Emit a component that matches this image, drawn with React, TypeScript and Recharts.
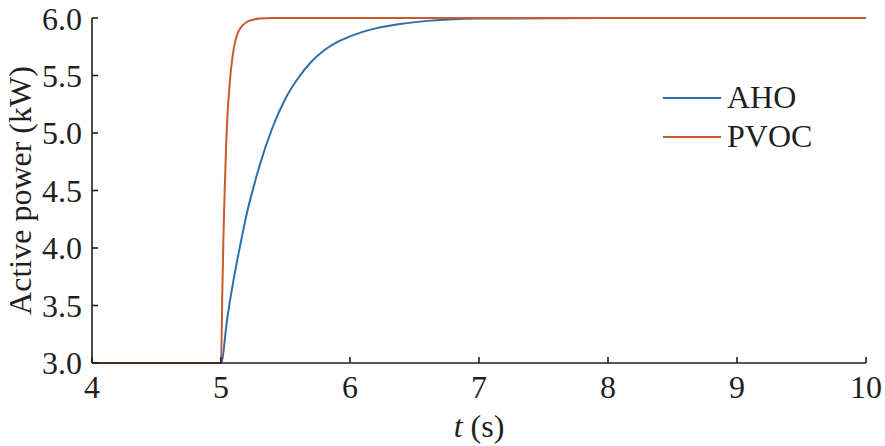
import React from "react";
import { LineChart, Line, XAxis, YAxis } from "recharts";

const xTicks = [4, 5, 6, 7, 8, 9, 10];
const yTicks = [3.0, 3.5, 4.0, 4.5, 5.0, 5.5, 6.0];

// AHO: slower first-order rise after the step at t = 5 s
const ahoTime = [4, 5, 5.05, 5.1, 5.15, 5.2, 5.25, 5.3, 5.4, 5.5, 5.6, 5.7, 5.8, 5.9, 6.0, 6.2, 6.4, 6.6, 6.8, 7.0, 8, 10];
const ahoPower = [3.0, 3.0, 3.4, 3.74, 4.03, 4.3, 4.52, 4.72, 5.05, 5.3, 5.48, 5.62, 5.72, 5.79, 5.84, 5.91, 5.95, 5.975, 5.99, 5.995, 6.0, 6.0];

// PVOC: near-instant rise
const pvocTime = [4, 5, 5.01, 5.02, 5.03, 5.04, 5.05, 5.06, 5.08, 5.1, 5.12, 5.15, 5.2, 5.25, 5.3, 5.4, 10];
const pvocPower = [3.0, 3.0, 3.6, 4.15, 4.55, 4.9, 5.15, 5.32, 5.58, 5.74, 5.84, 5.91, 5.965, 5.985, 5.995, 6.0, 6.0];

const ahoData = ahoTime.map((t, i) => ({ t, p: ahoPower[i] }));
const pvocData = pvocTime.map((t, i) => ({ t, p: pvocPower[i] }));

const BLUE = "#2e6fa8";
const ORANGE = "#cc5a2c";
const INK = "#1f1f1f";
const FONT = "'Times New Roman', 'Liberation Serif', Times, serif";

const legendItems = [
  { name: "AHO", color: BLUE },
  { name: "PVOC", color: ORANGE },
];

// legend drawn as an overlay so it doesn't eat into the plot area
const LegendBox = () => (
  <div
    style={{
      position: "absolute",
      left: 663,
      top: 78,
      fontSize: 32,
      lineHeight: "39px",
      color: INK,
      fontFamily: FONT,
    }}
  >
    {legendItems.map((s) => (
      <div key={s.name} style={{ display: "flex", alignItems: "center" }}>
        <svg width={58} height={4}>
          <line x1={0} y1={2} x2={58} y2={2} stroke={s.color} strokeWidth={2} />
        </svg>
        <span style={{ marginLeft: 6 }}>{s.name}</span>
      </div>
    ))}
  </div>
);

const YLabel = (props: any) => {
  const { viewBox } = props;
  const cx = 31;
  const cy = viewBox.y + viewBox.height / 2;
  return (
    <text
      x={cx}
      y={cy}
      transform={`rotate(-90, ${cx}, ${cy})`}
      textAnchor="middle"
      fontSize={32}
      fill={INK}
      fontFamily={FONT}
    >
      Active power (kW)
    </text>
  );
};

const XLabel = (props: any) => {
  const { viewBox } = props;
  return (
    <text
      x={viewBox.x + viewBox.width / 2}
      y={viewBox.y + 74}
      textAnchor="middle"
      fontSize={32}
      fill={INK}
      fontFamily={FONT}
    >
      <tspan fontStyle="italic">t</tspan>
      <tspan> (s)</tspan>
    </text>
  );
};

const App = () => (
  <div style={{ position: "absolute", left: 0, top: 0, width: 885, height: 446, fontFamily: FONT }}>
    <LineChart width={885} height={446} margin={{ top: 18, right: 19, left: 0, bottom: 0 }}>
      <XAxis
        dataKey="t"
        type="number"
        domain={[4, 10]}
        ticks={xTicks}
        height={83}
        stroke={INK}
        strokeWidth={1.6}
        tickSize={-6}
        tickMargin={18}
        tick={{ fontSize: 32, fill: INK, fontFamily: FONT }}
        label={<XLabel />}
        allowDuplicatedCategory={false}
      />
      <YAxis
        type="number"
        domain={[3, 6]}
        ticks={yTicks}
        width={92}
        stroke={INK}
        strokeWidth={1.6}
        tickSize={-6}
        tickMargin={16}
        tickFormatter={(v: number) => v.toFixed(1)}
        tick={{ fontSize: 32, fill: INK, fontFamily: FONT }}
        label={<YLabel />}
      />
      <Line
        data={ahoData}
        dataKey="p"
        name="AHO"
        type="monotone"
        stroke={BLUE}
        strokeWidth={2}
        dot={false}
        isAnimationActive={false}
      />
      <Line
        data={pvocData}
        dataKey="p"
        name="PVOC"
        type="monotone"
        stroke={ORANGE}
        strokeWidth={2}
        dot={false}
        isAnimationActive={false}
      />
    </LineChart>
    <LegendBox />
  </div>
);

export default App;
